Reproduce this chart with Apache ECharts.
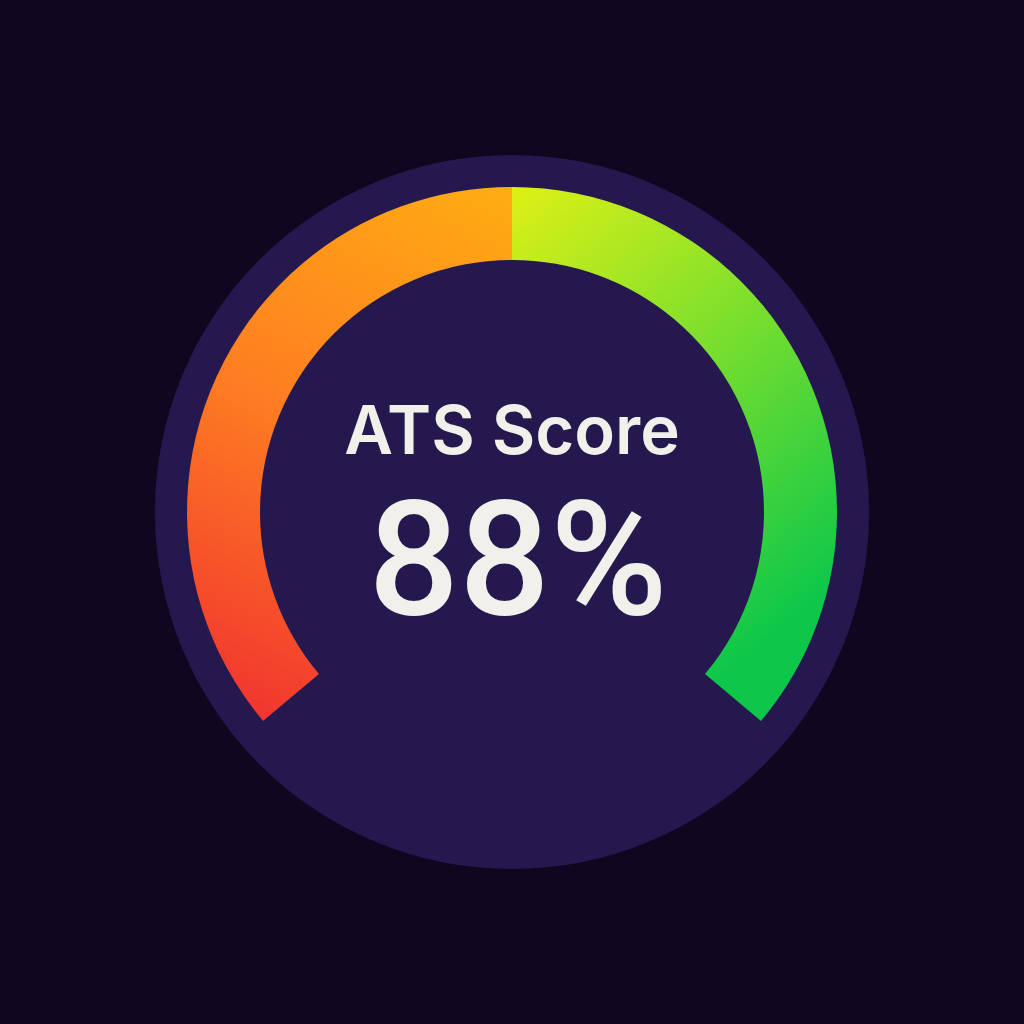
<!DOCTYPE html>
<html>
<head>
<meta charset="utf-8">
<script src="https://cdn.jsdelivr.net/npm/echarts@6/dist/echarts.min.js"></script>
<style>
html,body{margin:0;padding:0;background:#0f0720;}
#main{width:1024px;height:1024px;}
</style>
</head>
<body>
<div id="main"></div>
<script>
const titleLabel = 'ATS Score';
const scoreValues = [88];
const axisRange = [0, 100];
const segmentStops = [0.5, 1];

const chart = echarts.init(document.getElementById('main'));
const leftGrad = new echarts.graphic.LinearGradient(1, 0, 0.2, 1, [
  { offset: 0, color: '#ffad12' },
  { offset: 0.5, color: '#fe7d22' },
  { offset: 1, color: '#f1342f' }
]);
const rightGrad = new echarts.graphic.LinearGradient(0, 0, 1, 0.75, [
  { offset: 0, color: '#def016' },
  { offset: 0.45, color: '#80e02c' },
  { offset: 1, color: '#0cc74a' }
]);
chart.setOption({
  backgroundColor: '#0f0720',
  series: [
    {
      type: 'pie',
      center: ['50%', '50%'],
      radius: [0, 357],
      silent: true,
      label: { show: false },
      labelLine: { show: false },
      itemStyle: { color: '#24184e' },
      data: [{ value: 1, name: '' }],
      animation: false,
      z: 1
    },
    {
      type: 'gauge',
      center: ['50%', '50%'],
      radius: 325,
      startAngle: 220,
      endAngle: -40,
      min: axisRange[0],
      max: axisRange[1],
      z: 2,
      animation: false,
      axisLine: {
        lineStyle: {
          width: 73,
          color: [[segmentStops[0], leftGrad], [segmentStops[1], rightGrad]]
        }
      },
      splitLine: { show: false },
      axisTick: { show: false },
      axisLabel: { show: false },
      pointer: { show: false },
      anchor: { show: false },
      progress: { show: false },
      title: {
        show: true,
        offsetCenter: [0, -78],
        color: '#f1f0ea',
        fontFamily: 'Inter',
        fontWeight: 600,
        fontSize: 67
      },
      detail: {
        show: true,
        offsetCenter: [6, 62],
        color: '#f1f0ea',
        fontFamily: 'Roboto',
        fontWeight: 500,
        fontSize: 160,
        formatter: '{value}%'
      },
      data: [{ value: scoreValues[0], name: titleLabel }]
    }
  ]
});
</script>
</body>
</html>
